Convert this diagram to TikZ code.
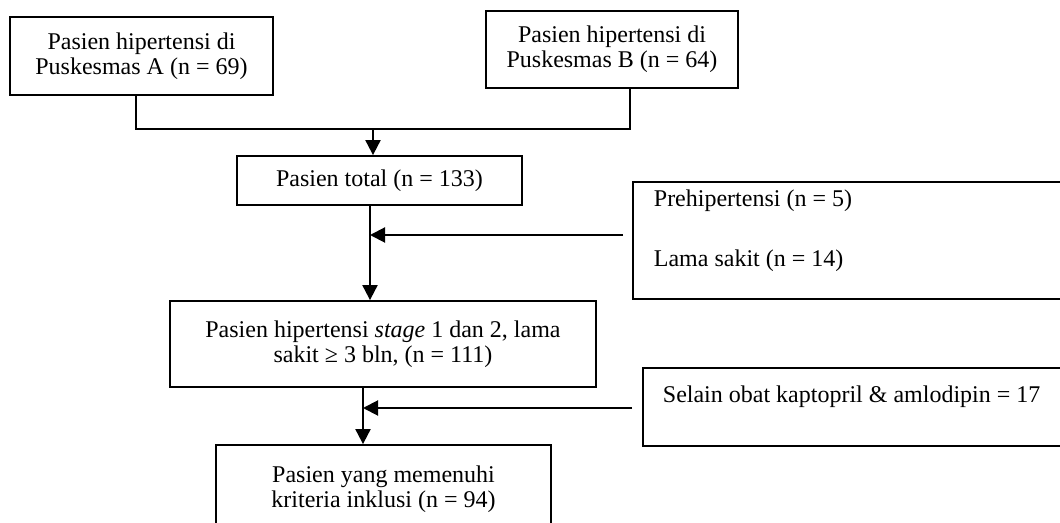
\documentclass[tikz,border=0pt]{standalone}
\usepackage{fontspec}
\setmainfont{Liberation Serif}
\usetikzlibrary{arrows.meta}
\begin{document}
\begin{tikzpicture}[x=0.5pt, y=-0.5pt, font=\fontsize{12}{12.5}\selectfont,
    kotak/.style={draw, line width=0.9pt, align=center, inner sep=2pt},
    eks/.style={draw, line width=0.9pt, anchor=north west, align=flush left, inner xsep=10.5pt, text width=220pt},
    garis/.style={line width=1pt},
    panah/.style={line width=1pt, -{Triangle[length=7.5pt,width=7.5pt]}}]
    \useasboundingbox (0,0) rectangle (1060,523);
    \clip (0,0) rectangle (1060,523);
    \node[kotak, minimum width=131.5pt, minimum height=39pt] (puskA) at (141.5,56) {Pasien hipertensi di\\Puskesmas A (n = 69)};
    \node[kotak, minimum width=126pt, minimum height=38.5pt] (puskB) at (612,49.5) {Pasien hipertensi di\\Puskesmas B (n = 64)};
    \node[kotak, minimum width=142.5pt, minimum height=24.5pt] (total) at (379.5,180.5) {Pasien total (n = 133)};
    \node[eks, minimum height=58.5pt] (eks1) at (632,181) {\spaceskip=0pt\begin{tabular}{@{}l@{}}Prehipertensi (n = 5)\\[17.5pt]Lama sakit (n = 14)\\[9.5pt]\end{tabular}};
    \node[kotak, minimum width=213pt, minimum height=43pt] (stage) at (383,344) {Pasien hipertensi \textit{stage} 1 dan 2, lama\\sakit ≥ 3 bln, (n = 111)};
    \node[eks, minimum height=39pt, inner xsep=10pt] (eks2) at (642,367) {\spaceskip=0pt\begin{tabular}{@{}l@{}}Selain obat kaptopril \& amlodipin = 17\\[9pt]\end{tabular}};
    \node[kotak, minimum width=167.5pt, minimum height=44.5pt] (inklusi) at (383.5,489.5) {Pasien yang memenuhi\\kriteria inklusi (n = 94)};
    \coordinate (gabung) at (373,129);
    \coordinate (cab1) at (370,235);
    \coordinate (cab2) at (363,408);
    \draw[garis] ([xshift=-3pt]puskA.south) |- (gabung) -| ([xshift=9pt]puskB.south);
    \draw[panah] (gabung) -- (gabung |- total.north);
    \draw[panah] (cab1 |- total.south) -- (cab1 |- stage.north);
    \draw[panah] ([xshift=-4.5pt]eks1.west |- cab1) -- (cab1);
    \draw[panah] (cab2 |- stage.south) -- (cab2 |- inklusi.north);
    \draw[panah] ([xshift=-5pt]eks2.west |- cab2) -- (cab2);
\end{tikzpicture}
\end{document}
